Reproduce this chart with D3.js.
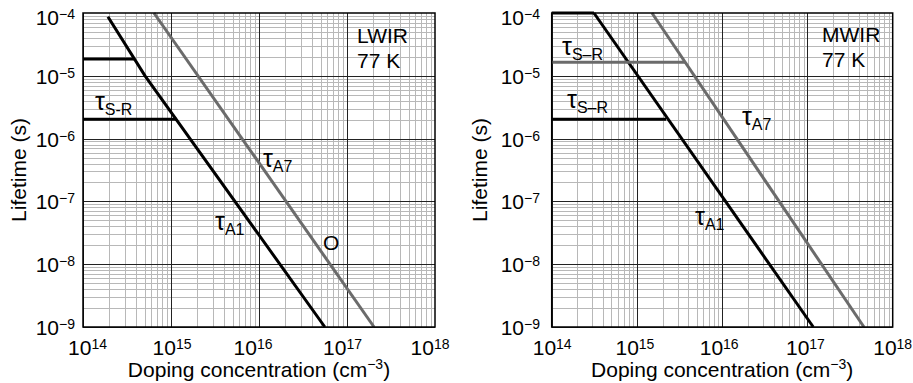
<!DOCTYPE html>
<html>
<head>
<meta charset="utf-8">
<script src="https://cdn.jsdelivr.net/npm/d3@7"></script>
<style>
  html, body { margin: 0; padding: 0; background: #fff; }
  svg { display: block; font-family: "Liberation Sans", Arial, sans-serif; }
</style>
</head>
<body>
<svg id="chart" width="913" height="383"></svg>
<script>
// Tick exponents on both axes
const xTickExps = [14, 15, 16, 17, 18];
const yTickExps = [-4, -5, -6, -7, -8, -9];

// LWIR, 77 K  — [doping (cm^-3), lifetime (s)]
const lwirA1 = [[1.92e14, 8.7e-5], [5.07e14, 1e-5], [5.6e16, 1e-9]];
const lwirA7 = [[6.4e14, 1e-4], [2.03e17, 1e-9]];
const lwirSRTau = [1.85e-5, 2.04e-6];
const lwirSREnd = [3.9e14, 1.16e15];

// MWIR, 77 K
const mwirA1 = [[3.13e14, 1e-4], [1.17e17, 1e-9]];
const mwirA7 = [[1.5e15, 1e-4], [4.6e17, 1e-9]];
const mwirSRTau = [1e-4, 2.04e-6];
const mwirSREnd = [3.13e14, 2.2e15];
const mwirSRGrayTau = [1.64e-5];
const mwirSRGrayEnd = [3.66e15];

const BLACK = "#000";
const GRAY = "#6b6b6b";

const panels = [
  {
    x0: 83, x1: 435, y0: 13, y1: 327, ytickRight: 75, ytitleX: 25.5,
    xLabelNudge: [4.5, 1, -6, -4.5, -5],
    lines: [
      { pts: lwirA1, color: BLACK },
      { pts: lwirA7, color: GRAY },
      ...lwirSRTau.map((t, i) => ({ pts: [[1e14, t], [lwirSREnd[i], t]], color: BLACK }))
    ],
    notes: [
      { n: 10 ** 14.136, t: 10 ** -5.547, main: "τ", sub: "S-R" },
      { n: 10 ** 16.045, t: 10 ** -6.456, main: "τ", sub: "A7" },
      { n: 10 ** 15.5,   t: 10 ** -7.461, main: "τ", sub: "A1" },
      { n: 10 ** 16.727, t: 10 ** -7.78,  main: "O" },
      { n: 10 ** 17.114, t: 10 ** -4.478, main: "LWIR" },
      { n: 10 ** 17.114, t: 10 ** -4.877, main: "77 K" }
    ]
  },
  {
    x0: 551.7, x1: 892.7, y0: 13, y1: 327, ytickRight: 540, ytitleX: 487,
    xLabelNudge: [0.5, -2, -3, -2, 0],
    lines: [
      { pts: mwirA1, color: BLACK },
      { pts: mwirA7, color: GRAY },
      ...mwirSRTau.map((t, i) => ({ pts: [[1e14, t], [mwirSREnd[i], t]], color: BLACK })),
      ...mwirSRGrayTau.map((t, i) => ({ pts: [[1e14, t], [mwirSRGrayEnd[i], t]], color: GRAY }))
    ],
    notes: [
      { n: 10 ** 14.121, t: 10 ** -4.67,  main: "τ", sub: "S–R" },
      { n: 10 ** 14.18,  t: 10 ** -5.515, main: "τ", sub: "S–R" },
      { n: 10 ** 16.232, t: 10 ** -5.786, main: "τ", sub: "A7" },
      { n: 10 ** 15.681, t: 10 ** -7.381, main: "τ", sub: "A1" },
      { n: 10 ** 17.171, t: 10 ** -4.463, main: "MWIR" },
      { n: 10 ** 17.171, t: 10 ** -4.861, main: "77 K" }
    ]
  }
];

const svg = d3.select("#chart");

function drawPanel(p) {
  const x = d3.scaleLog().domain([1e14, 1e18]).range([p.x0, p.x1]);
  const y = d3.scaleLog().domain([1e-9, 1e-4]).range([p.y1, p.y0]);
  const g = svg.append("g");

  // grid values: 1..9 × each decade
  const xGrid = [], yGrid = [];
  for (let d = 14; d < 18; d++) for (let k = 1; k <= 9; k++) xGrid.push({ v: k * 10 ** d, major: k === 1 });
  for (let d = -9; d < -4; d++) for (let k = 1; k <= 9; k++) yGrid.push({ v: k * 10 ** d, major: k === 1 });

  const minor = g.append("g").attr("stroke", "#b8b8b8").attr("stroke-width", 1);
  minor.selectAll("line.vx").data(xGrid.filter(d => !d.major)).join("line")
    .attr("x1", d => Math.round(x(d.v)) + 0.5).attr("x2", d => Math.round(x(d.v)) + 0.5)
    .attr("y1", p.y0).attr("y2", p.y1);
  minor.selectAll("line.hy").data(yGrid.filter(d => !d.major)).join("line")
    .attr("y1", d => Math.round(y(d.v)) + 0.5).attr("y2", d => Math.round(y(d.v)) + 0.5)
    .attr("x1", p.x0).attr("x2", p.x1);

  const major = g.append("g").attr("stroke", "#222").attr("stroke-width", 1);
  major.selectAll("line.vx").data(xGrid.filter(d => d.major)).join("line")
    .attr("x1", d => Math.round(x(d.v)) + 0.5).attr("x2", d => Math.round(x(d.v)) + 0.5)
    .attr("y1", p.y0).attr("y2", p.y1);
  major.selectAll("line.hy").data(yGrid.filter(d => d.major)).join("line")
    .attr("y1", d => Math.round(y(d.v)) + 0.5).attr("y2", d => Math.round(y(d.v)) + 0.5)
    .attr("x1", p.x0).attr("x2", p.x1);

  // lifetime curves
  const line = d3.line().x(d => x(d[0])).y(d => y(d[1]));
  g.append("g").selectAll("path").data(p.lines).join("path")
    .attr("d", d => line(d.pts))
    .attr("fill", "none")
    .attr("stroke", d => d.color)
    .attr("stroke-width", 3);

  // frame
  g.append("rect")
    .attr("x", p.x0).attr("y", p.y0)
    .attr("width", p.x1 - p.x0).attr("height", p.y1 - p.y0)
    .attr("fill", "none").attr("stroke", "#000").attr("stroke-width", 1.5);

  // x tick labels
  xTickExps.forEach((e, i) => {
    const t = g.append("text").attr("x", x(10 ** e) + p.xLabelNudge[i]).attr("y", 355)
      .attr("text-anchor", "middle").attr("font-size", 21);
    t.append("tspan").text("10");
    t.append("tspan").attr("font-size", 14).attr("dy", -6).text(String(e));
  });

  // y tick labels
  yTickExps.forEach(e => {
    const yy = y(10 ** e) + 8 + (e === -4 ? 4 : 0);
    const t = g.append("text").attr("x", p.ytickRight).attr("y", yy)
      .attr("text-anchor", "end").attr("font-size", 21);
    t.append("tspan").text("10");
    t.append("tspan").attr("font-size", 14).attr("dy", -6).text("−" + Math.abs(e));
  });

  // axis titles
  const xt = g.append("text").attr("x", (p.x0 + p.x1) / 2).attr("y", 376.5)
    .attr("text-anchor", "middle").attr("font-size", 21);
  xt.append("tspan").text("Doping concentration (cm");
  xt.append("tspan").attr("font-size", 14).attr("dy", -8).text("−3");
  xt.append("tspan").attr("dy", 8).text(")");

  g.append("text")
    .attr("transform", `translate(${p.ytitleX},${(p.y0 + p.y1) / 2}) rotate(-90)`)
    .attr("text-anchor", "middle").attr("font-size", 21)
    .text("Lifetime (s)");

  // curve annotations
  p.notes.forEach(n => {
    const t = g.append("text").attr("x", x(n.n)).attr("y", y(n.t))
      .attr("font-size", n.sub ? 25 : 21);
    t.append("tspan").text(n.main);
    if (n.sub) t.append("tspan").attr("font-size", 16).attr("dy", 5).text(n.sub);
  });
}

panels.forEach(drawPanel);
</script>
</body>
</html>
